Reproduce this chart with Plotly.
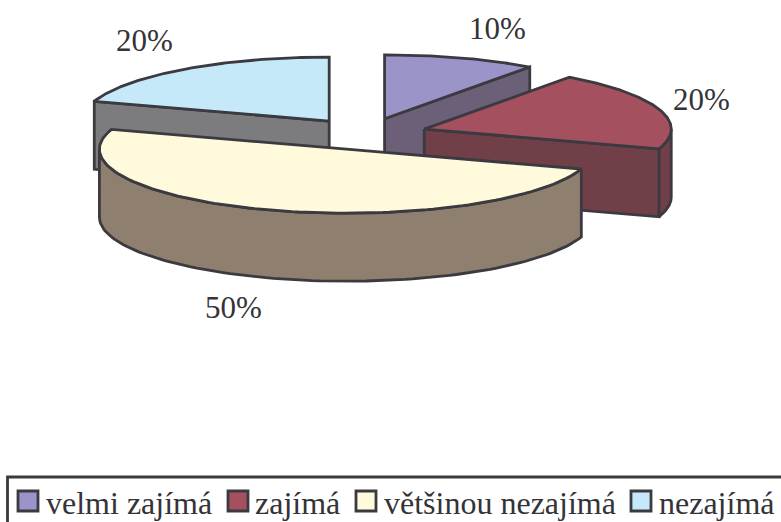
import numpy as np
import plotly.graph_objects as go

categories = ["velmi zajímá", "zajímá", "většinou nezajímá", "nezajímá"]
values = [10, 20, 50, 20]
value_labels = ["10%", "20%", "50%", "20%"]

top_colors = ["#9B94C8", "#A5505F", "#FFFADC", "#C6E9FA"]
side_colors = ["#6B6078", "#713F47", "#8E7F6E", "#7C7C7E"]
EDGE = "#3A3A40"
TEXT = "#333338"
FONT = "Liberation Serif"

# Oblique pie projection, in page pixels
CX, CY, RX, RY, DEPTH, EXPLODE = 365.5, 134.0, 247.0, 64.0, 68.0, 0.25
EDGE_W = 2.8

label_xy = [(497, 28), (701, 99), (233, 307), (144, 40)]
swatch_x = [18, 228, 356, 631]
legend_text_x = [44, 253, 382, 657]


def project(angle, r, centre, drop=0.0):
    a = np.radians(angle)
    return (centre[0] + r * RX * np.sin(a), centre[1] - r * RY * np.cos(a) + drop)


def poly(fig, pts, fill):
    xs, ys = zip(*pts)
    fig.add_trace(go.Scatter(
        x=list(xs) + [xs[0]], y=list(ys) + [ys[0]], mode="lines", fill="toself",
        fillcolor=fill, line=dict(color=EDGE, width=EDGE_W), hoverinfo="skip",
        showlegend=False))


total = sum(values)
bounds = np.cumsum([0] + values) / total * 360.0
slices = []
for i in range(len(values)):
    a0, a1 = bounds[i], bounds[i + 1]
    mid = (a0 + a1) / 2
    centre = project(mid, EXPLODE, (CX, CY))
    slices.append((i, a0, a1, centre))

fig = go.Figure()
# Painter's order: rearmost slice centres first
for i, a0, a1, c in sorted(slices, key=lambda s: s[3][1]):
    # radial walls facing the viewer
    for ang, visible in ((a0, np.sin(np.radians(a0)) < -1e-6), (a1, np.sin(np.radians(a1)) > 1e-6)):
        if visible:
            p = project(ang, 1, c)
            poly(fig, [c, p, (p[0], p[1] + DEPTH), (c[0], c[1] + DEPTH)], side_colors[i])
    # curved outer wall facing the viewer
    lo, hi = max(a0, 90.0), min(a1, 270.0)
    if hi > lo:
        arc = np.linspace(lo, hi, 90)
        top = [project(t, 1, c) for t in arc]
        bottom = [project(t, 1, c, DEPTH) for t in arc[::-1]]
        poly(fig, top + bottom, side_colors[i])
    # top face
    arc = np.linspace(a0, a1, 120)
    poly(fig, [c] + [project(t, 1, c) for t in arc], top_colors[i])

annotations = []
for txt, (x, y) in zip(value_labels, label_xy):
    annotations.append(dict(x=x, y=y, text=txt, showarrow=False, xref="x", yref="y",
                            font=dict(family=FONT, size=31, color=TEXT)))
for name, x in zip(categories, legend_text_x):
    annotations.append(dict(x=x, y=503, text=name, showarrow=False, xref="x", yref="y",
                            xanchor="left", yanchor="middle",
                            font=dict(family=FONT, size=32, color=TEXT)))

shapes = [dict(type="rect", xref="x", yref="y", x0=7.5, x1=800, y0=477, y1=540,
               line=dict(color=EDGE, width=2.8), fillcolor="rgba(0,0,0,0)", layer="below")]
for x, col in zip(swatch_x, top_colors):
    shapes.append(dict(type="rect", xref="x", yref="y", x0=x, x1=x + 20, y0=491, y1=511,
                       line=dict(color=EDGE, width=2.8), fillcolor=col))

fig.update_layout(
    width=781, height=522, margin=dict(l=0, r=0, t=0, b=0),
    paper_bgcolor="white", plot_bgcolor="white", showlegend=False,
    xaxis=dict(range=[0, 781], visible=False, fixedrange=True),
    yaxis=dict(range=[522, 0], visible=False, fixedrange=True),
    annotations=annotations, shapes=shapes,
)
fig.write_html("out.html", config={"displayModeBar": False},
               post_script="document.body.style.margin='0';document.body.style.overflow='hidden';")
